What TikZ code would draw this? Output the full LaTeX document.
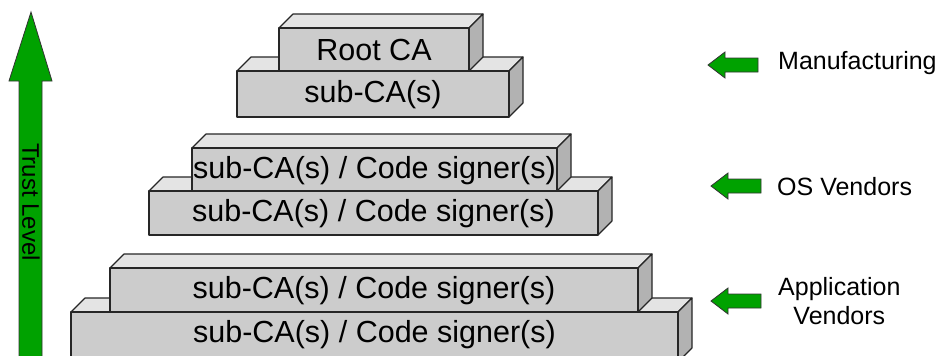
\documentclass[tikz,border=0pt]{standalone}
\usepackage{fontspec}
\setmainfont{Liberation Sans}

\definecolor{slabfront}{RGB}{204,204,204}
\definecolor{slabtop}{RGB}{228,228,228}
\definecolor{slabside}{RGB}{178,178,178}
\definecolor{trustgreen}{RGB}{0,162,0}

\tikzset{
  slabline/.style={draw=black!85, line width=1.1pt, line join=round},
  slabtext/.style={font=\fontsize{30.5}{35}\selectfont, inner sep=0pt},
  sidetext/.style={font=\fontsize{25}{29}\selectfont, inner sep=0pt, anchor=west, align=center},
  greenarrow/.style={fill=trustgreen, draw=black!80, line width=0.8pt, line join=miter}
}

% 3D slab: name, x1, y1, x2, y2, text (pixel coordinates, y downwards)
\newcommand{\slab}[6]{%
  \filldraw[slabline, fill=slabtop] (#2,#3) -- ({#2+14},{#3-14}) -- ({#4+14},{#3-14}) -- (#4,#3) -- cycle;
  \filldraw[slabline, fill=slabside] (#4,#3) -- ({#4+14},{#3-14}) -- ({#4+14},{#5-14}) -- (#4,#5) -- cycle;
  \filldraw[slabline, fill=slabfront] (#2,#3) rectangle (#4,#5);
  \node[slabtext] (#1) at ({(#2+#4)/2},{(#3+#5)/2+1}) {#6};
}

% small arrow pointing left, tip at given point
\newcommand{\sidearrow}[2]{%
  \filldraw[greenarrow, shift={(#1,#2)}] (0,0) -- (17,-13) -- (17,-7) -- (50,-7) -- (50,7) -- (17,7) -- (17,13) -- cycle;
}

\begin{document}
\begin{tikzpicture}[x=1pt, y=-1pt]
    \useasboundingbox (0,0) rectangle (938,356);

    % Trust level arrow
    \filldraw[greenarrow] (31,12) -- (52,81) -- (42,81) -- (42,362) -- (19,362) -- (19,81) -- (9,81) -- cycle;
    \node[font=\fontsize{24}{28}\selectfont, rotate=-90, inner sep=0pt] (trust) at (31,202) {Trust Level};

    % top tier
    \slab{subca}{237}{71}{509}{117}{sub-CA(s)}
    \slab{root}{279}{28}{469}{71}{Root CA}

    % middle tier
    \slab{oslow}{149}{191}{598}{235}{sub-CA(s) / Code signer(s)}
    \slab{osup}{192}{148}{557}{191}{sub-CA(s) / Code signer(s)}

    % bottom tier
    \slab{applow}{71}{312}{678}{362}{}
    \node[slabtext] (applowtext) at (374.5,335) {sub-CA(s) / Code signer(s)};
    \slab{appup}{110}{268}{638}{312}{sub-CA(s) / Code signer(s)}

    % labels on the right
    \sidearrow{708}{65}
    \node[sidetext] (manu) at (778,63) {Manufacturing};
    \sidearrow{711}{186}
    \node[sidetext] (osv) at (777,187) {OS Vendors};
    \sidearrow{711}{301}
    \node[sidetext] (appv) at (778,301) {Application\\Vendors};
\end{tikzpicture}
\end{document}
